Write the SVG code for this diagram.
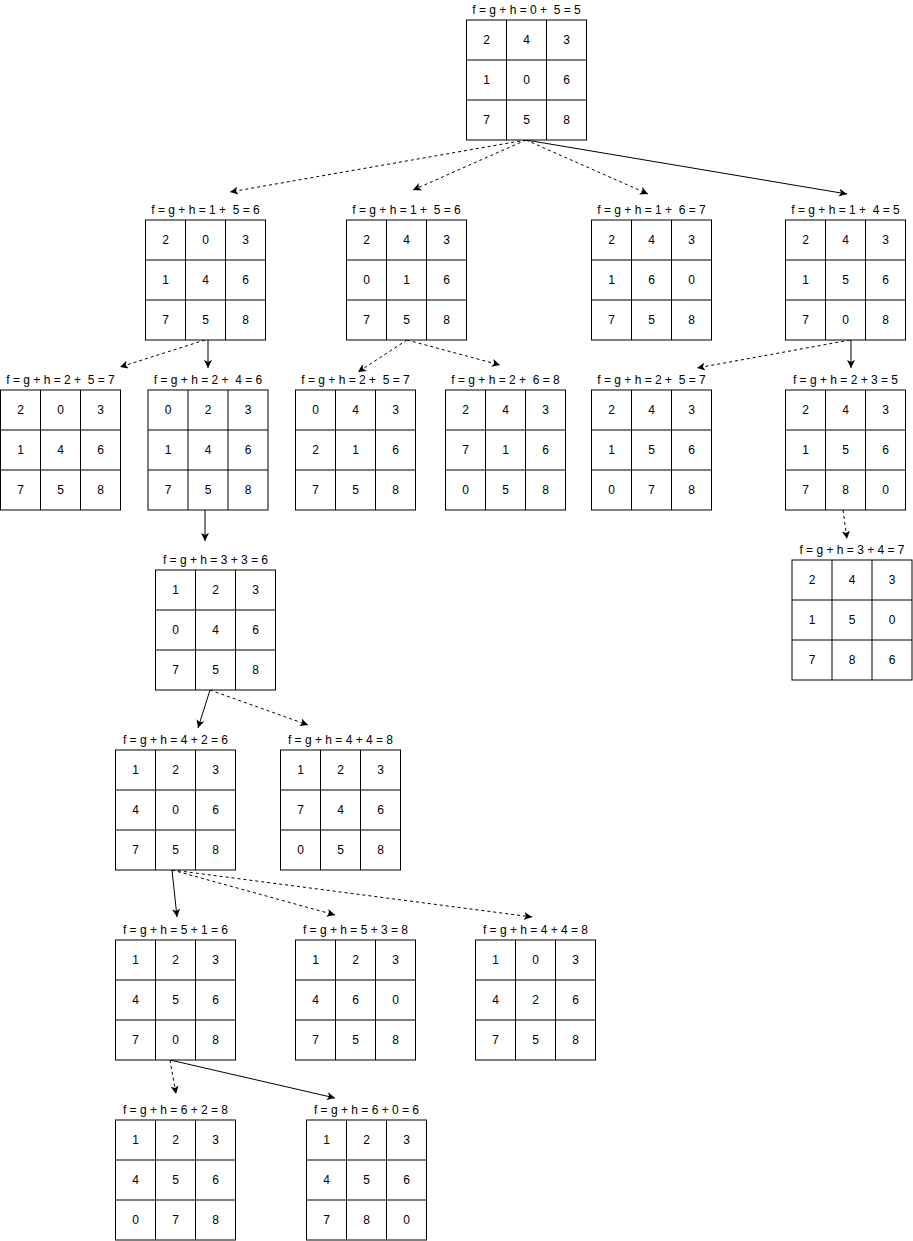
<svg xmlns="http://www.w3.org/2000/svg" xmlns:xlink="http://www.w3.org/1999/xlink" width="913" height="1241" viewBox="0 0 913 1241">
<style>
.bg{fill:#ffffff}
.cell{fill:#ffffff;stroke:#000000;stroke-width:1}
.gl{stroke:#000000;stroke-width:1}
.n{font-family:"Liberation Sans",Arial,sans-serif;font-size:12px;fill:#000000;text-anchor:middle}
.lbl{font-family:"Liberation Sans",Arial,sans-serif;font-size:12px;fill:#000000;text-anchor:middle;white-space:pre}
.e{fill:none;stroke:#000000;stroke-width:1}
.d{stroke-dasharray:3 3}
</style>
<defs>
<marker id="arr" markerUnits="userSpaceOnUse" markerWidth="10" markerHeight="10" refX="8" refY="4" orient="auto">
<path d="M0,0 L8,4 L0,8 L2,4 Z" fill="#000000"/>
</marker>
<g id="grid">
<rect class="cell" x="0" y="0" width="120" height="120"/>
<line class="gl" x1="40" y1="0" x2="40" y2="120"/>
<line class="gl" x1="80" y1="0" x2="80" y2="120"/>
<line class="gl" x1="0" y1="40" x2="120" y2="40"/>
<line class="gl" x1="0" y1="80" x2="120" y2="80"/>
</g>
</defs>
<rect class="bg" x="0" y="0" width="913" height="1241"/>

<g id="connectors">
<line class="e d" x1="526" y1="140" x2="230" y2="192" marker-end="url(#arr)"/>
<line class="e d" x1="526" y1="140" x2="413" y2="190" marker-end="url(#arr)"/>
<line class="e d" x1="526" y1="140" x2="648" y2="194" marker-end="url(#arr)"/>
<line class="e" x1="526" y1="140" x2="847" y2="194" marker-end="url(#arr)"/>
<line class="e d" x1="205" y1="340" x2="120" y2="367" marker-end="url(#arr)"/>
<line class="e" x1="208" y1="340" x2="208" y2="368" marker-end="url(#arr)"/>
<line class="e d" x1="407" y1="340" x2="358" y2="372" marker-end="url(#arr)"/>
<line class="e d" x1="407" y1="340" x2="500" y2="365" marker-end="url(#arr)"/>
<line class="e d" x1="850" y1="340" x2="697" y2="368" marker-end="url(#arr)"/>
<line class="e" x1="851" y1="340" x2="851" y2="368" marker-end="url(#arr)"/>
<line class="e" x1="205" y1="510" x2="205" y2="541" marker-end="url(#arr)"/>
<line class="e d" x1="843" y1="510" x2="847" y2="539" marker-end="url(#arr)"/>
<line class="e" x1="210" y1="690" x2="198" y2="728" marker-end="url(#arr)"/>
<line class="e d" x1="210" y1="690" x2="308" y2="725" marker-end="url(#arr)"/>
<line class="e" x1="172" y1="870" x2="177" y2="917" marker-end="url(#arr)"/>
<line class="e d" x1="172" y1="870" x2="335" y2="915" marker-end="url(#arr)"/>
<line class="e d" x1="172" y1="870" x2="532" y2="917" marker-end="url(#arr)"/>
<line class="e d" x1="170" y1="1060" x2="176" y2="1094" marker-end="url(#arr)"/>
<line class="e" x1="170" y1="1060" x2="335" y2="1098" marker-end="url(#arr)"/>
</g>

<g id="n0" transform="translate(466.5,20)">
<text class="lbl" x="60" y="-6" xml:space="preserve">f = g + h = 0 +  5 = 5</text>
<use xlink:href="#grid" href="#grid"/>
<text class="n" x="20" y="24">2</text><text class="n" x="60" y="24">4</text><text class="n" x="100" y="24">3</text>
<text class="n" x="20" y="64">1</text><text class="n" x="60" y="64">0</text><text class="n" x="100" y="64">6</text>
<text class="n" x="20" y="104">7</text><text class="n" x="60" y="104">5</text><text class="n" x="100" y="104">8</text>
</g>

<g id="n1a" transform="translate(145.5,220)">
<text class="lbl" x="60" y="-6" xml:space="preserve">f = g + h = 1 +  5 = 6</text>
<use xlink:href="#grid" href="#grid"/>
<text class="n" x="20" y="24">2</text><text class="n" x="60" y="24">0</text><text class="n" x="100" y="24">3</text>
<text class="n" x="20" y="64">1</text><text class="n" x="60" y="64">4</text><text class="n" x="100" y="64">6</text>
<text class="n" x="20" y="104">7</text><text class="n" x="60" y="104">5</text><text class="n" x="100" y="104">8</text>
</g>

<g id="n1b" transform="translate(346.5,220)">
<text class="lbl" x="60" y="-6" xml:space="preserve">f = g + h = 1 +  5 = 6</text>
<use xlink:href="#grid" href="#grid"/>
<text class="n" x="20" y="24">2</text><text class="n" x="60" y="24">4</text><text class="n" x="100" y="24">3</text>
<text class="n" x="20" y="64">0</text><text class="n" x="60" y="64">1</text><text class="n" x="100" y="64">6</text>
<text class="n" x="20" y="104">7</text><text class="n" x="60" y="104">5</text><text class="n" x="100" y="104">8</text>
</g>

<g id="n1c" transform="translate(591.5,220)">
<text class="lbl" x="60" y="-6" xml:space="preserve">f = g + h = 1 +  6 = 7</text>
<use xlink:href="#grid" href="#grid"/>
<text class="n" x="20" y="24">2</text><text class="n" x="60" y="24">4</text><text class="n" x="100" y="24">3</text>
<text class="n" x="20" y="64">1</text><text class="n" x="60" y="64">6</text><text class="n" x="100" y="64">0</text>
<text class="n" x="20" y="104">7</text><text class="n" x="60" y="104">5</text><text class="n" x="100" y="104">8</text>
</g>

<g id="n1d" transform="translate(785.5,220)">
<text class="lbl" x="60" y="-6" xml:space="preserve">f = g + h = 1 +  4 = 5</text>
<use xlink:href="#grid" href="#grid"/>
<text class="n" x="20" y="24">2</text><text class="n" x="60" y="24">4</text><text class="n" x="100" y="24">3</text>
<text class="n" x="20" y="64">1</text><text class="n" x="60" y="64">5</text><text class="n" x="100" y="64">6</text>
<text class="n" x="20" y="104">7</text><text class="n" x="60" y="104">0</text><text class="n" x="100" y="104">8</text>
</g>

<g id="n2a" transform="translate(0.5,390)">
<text class="lbl" x="60" y="-6" xml:space="preserve">f = g + h = 2 +  5 = 7</text>
<use xlink:href="#grid" href="#grid"/>
<text class="n" x="20" y="24">2</text><text class="n" x="60" y="24">0</text><text class="n" x="100" y="24">3</text>
<text class="n" x="20" y="64">1</text><text class="n" x="60" y="64">4</text><text class="n" x="100" y="64">6</text>
<text class="n" x="20" y="104">7</text><text class="n" x="60" y="104">5</text><text class="n" x="100" y="104">8</text>
</g>

<g id="n2b" transform="translate(148,390)">
<text class="lbl" x="60" y="-6" xml:space="preserve">f = g + h = 2 +  4 = 6</text>
<use xlink:href="#grid" href="#grid"/>
<text class="n" x="20" y="24">0</text><text class="n" x="60" y="24">2</text><text class="n" x="100" y="24">3</text>
<text class="n" x="20" y="64">1</text><text class="n" x="60" y="64">4</text><text class="n" x="100" y="64">6</text>
<text class="n" x="20" y="104">7</text><text class="n" x="60" y="104">5</text><text class="n" x="100" y="104">8</text>
</g>

<g id="n2c" transform="translate(295.5,390)">
<text class="lbl" x="60" y="-6" xml:space="preserve">f = g + h = 2 +  5 = 7</text>
<use xlink:href="#grid" href="#grid"/>
<text class="n" x="20" y="24">0</text><text class="n" x="60" y="24">4</text><text class="n" x="100" y="24">3</text>
<text class="n" x="20" y="64">2</text><text class="n" x="60" y="64">1</text><text class="n" x="100" y="64">6</text>
<text class="n" x="20" y="104">7</text><text class="n" x="60" y="104">5</text><text class="n" x="100" y="104">8</text>
</g>

<g id="n2d" transform="translate(445.5,390)">
<text class="lbl" x="60" y="-6" xml:space="preserve">f = g + h = 2 +  6 = 8</text>
<use xlink:href="#grid" href="#grid"/>
<text class="n" x="20" y="24">2</text><text class="n" x="60" y="24">4</text><text class="n" x="100" y="24">3</text>
<text class="n" x="20" y="64">7</text><text class="n" x="60" y="64">1</text><text class="n" x="100" y="64">6</text>
<text class="n" x="20" y="104">0</text><text class="n" x="60" y="104">5</text><text class="n" x="100" y="104">8</text>
</g>

<g id="n2e" transform="translate(591.5,390)">
<text class="lbl" x="60" y="-6" xml:space="preserve">f = g + h = 2 +  5 = 7</text>
<use xlink:href="#grid" href="#grid"/>
<text class="n" x="20" y="24">2</text><text class="n" x="60" y="24">4</text><text class="n" x="100" y="24">3</text>
<text class="n" x="20" y="64">1</text><text class="n" x="60" y="64">5</text><text class="n" x="100" y="64">6</text>
<text class="n" x="20" y="104">0</text><text class="n" x="60" y="104">7</text><text class="n" x="100" y="104">8</text>
</g>

<g id="n2f" transform="translate(785.5,390)">
<text class="lbl" x="60" y="-6" xml:space="preserve">f = g + h = 2 + 3 = 5</text>
<use xlink:href="#grid" href="#grid"/>
<text class="n" x="20" y="24">2</text><text class="n" x="60" y="24">4</text><text class="n" x="100" y="24">3</text>
<text class="n" x="20" y="64">1</text><text class="n" x="60" y="64">5</text><text class="n" x="100" y="64">6</text>
<text class="n" x="20" y="104">7</text><text class="n" x="60" y="104">8</text><text class="n" x="100" y="104">0</text>
</g>

<g id="n3a" transform="translate(155.5,570)">
<text class="lbl" x="60" y="-6" xml:space="preserve">f = g + h = 3 + 3 = 6</text>
<use xlink:href="#grid" href="#grid"/>
<text class="n" x="20" y="24">1</text><text class="n" x="60" y="24">2</text><text class="n" x="100" y="24">3</text>
<text class="n" x="20" y="64">0</text><text class="n" x="60" y="64">4</text><text class="n" x="100" y="64">6</text>
<text class="n" x="20" y="104">7</text><text class="n" x="60" y="104">5</text><text class="n" x="100" y="104">8</text>
</g>

<g id="n3b" transform="translate(792,560)">
<text class="lbl" x="60" y="-6" xml:space="preserve">f = g + h = 3 + 4 = 7</text>
<use xlink:href="#grid" href="#grid"/>
<text class="n" x="20" y="24">2</text><text class="n" x="60" y="24">4</text><text class="n" x="100" y="24">3</text>
<text class="n" x="20" y="64">1</text><text class="n" x="60" y="64">5</text><text class="n" x="100" y="64">0</text>
<text class="n" x="20" y="104">7</text><text class="n" x="60" y="104">8</text><text class="n" x="100" y="104">6</text>
</g>

<g id="n4a" transform="translate(115.5,750)">
<text class="lbl" x="60" y="-6" xml:space="preserve">f = g + h = 4 + 2 = 6</text>
<use xlink:href="#grid" href="#grid"/>
<text class="n" x="20" y="24">1</text><text class="n" x="60" y="24">2</text><text class="n" x="100" y="24">3</text>
<text class="n" x="20" y="64">4</text><text class="n" x="60" y="64">0</text><text class="n" x="100" y="64">6</text>
<text class="n" x="20" y="104">7</text><text class="n" x="60" y="104">5</text><text class="n" x="100" y="104">8</text>
</g>

<g id="n4b" transform="translate(280.5,750)">
<text class="lbl" x="60" y="-6" xml:space="preserve">f = g + h = 4 + 4 = 8</text>
<use xlink:href="#grid" href="#grid"/>
<text class="n" x="20" y="24">1</text><text class="n" x="60" y="24">2</text><text class="n" x="100" y="24">3</text>
<text class="n" x="20" y="64">7</text><text class="n" x="60" y="64">4</text><text class="n" x="100" y="64">6</text>
<text class="n" x="20" y="104">0</text><text class="n" x="60" y="104">5</text><text class="n" x="100" y="104">8</text>
</g>

<g id="n5a" transform="translate(115.5,940)">
<text class="lbl" x="60" y="-6" xml:space="preserve">f = g + h = 5 + 1 = 6</text>
<use xlink:href="#grid" href="#grid"/>
<text class="n" x="20" y="24">1</text><text class="n" x="60" y="24">2</text><text class="n" x="100" y="24">3</text>
<text class="n" x="20" y="64">4</text><text class="n" x="60" y="64">5</text><text class="n" x="100" y="64">6</text>
<text class="n" x="20" y="104">7</text><text class="n" x="60" y="104">0</text><text class="n" x="100" y="104">8</text>
</g>

<g id="n5b" transform="translate(295.5,940)">
<text class="lbl" x="60" y="-6" xml:space="preserve">f = g + h = 5 + 3 = 8</text>
<use xlink:href="#grid" href="#grid"/>
<text class="n" x="20" y="24">1</text><text class="n" x="60" y="24">2</text><text class="n" x="100" y="24">3</text>
<text class="n" x="20" y="64">4</text><text class="n" x="60" y="64">6</text><text class="n" x="100" y="64">0</text>
<text class="n" x="20" y="104">7</text><text class="n" x="60" y="104">5</text><text class="n" x="100" y="104">8</text>
</g>

<g id="n5c" transform="translate(475.5,940)">
<text class="lbl" x="60" y="-6" xml:space="preserve">f = g + h = 4 + 4 = 8</text>
<use xlink:href="#grid" href="#grid"/>
<text class="n" x="20" y="24">1</text><text class="n" x="60" y="24">0</text><text class="n" x="100" y="24">3</text>
<text class="n" x="20" y="64">4</text><text class="n" x="60" y="64">2</text><text class="n" x="100" y="64">6</text>
<text class="n" x="20" y="104">7</text><text class="n" x="60" y="104">5</text><text class="n" x="100" y="104">8</text>
</g>

<g id="n6a" transform="translate(115.5,1120)">
<text class="lbl" x="60" y="-6" xml:space="preserve">f = g + h = 6 + 2 = 8</text>
<use xlink:href="#grid" href="#grid"/>
<text class="n" x="20" y="24">1</text><text class="n" x="60" y="24">2</text><text class="n" x="100" y="24">3</text>
<text class="n" x="20" y="64">4</text><text class="n" x="60" y="64">5</text><text class="n" x="100" y="64">6</text>
<text class="n" x="20" y="104">0</text><text class="n" x="60" y="104">7</text><text class="n" x="100" y="104">8</text>
</g>

<g id="n6b" transform="translate(306.5,1120)">
<text class="lbl" x="60" y="-6" xml:space="preserve">f = g + h = 6 + 0 = 6</text>
<use xlink:href="#grid" href="#grid"/>
<text class="n" x="20" y="24">1</text><text class="n" x="60" y="24">2</text><text class="n" x="100" y="24">3</text>
<text class="n" x="20" y="64">4</text><text class="n" x="60" y="64">5</text><text class="n" x="100" y="64">6</text>
<text class="n" x="20" y="104">7</text><text class="n" x="60" y="104">8</text><text class="n" x="100" y="104">0</text>
</g>
</svg>
